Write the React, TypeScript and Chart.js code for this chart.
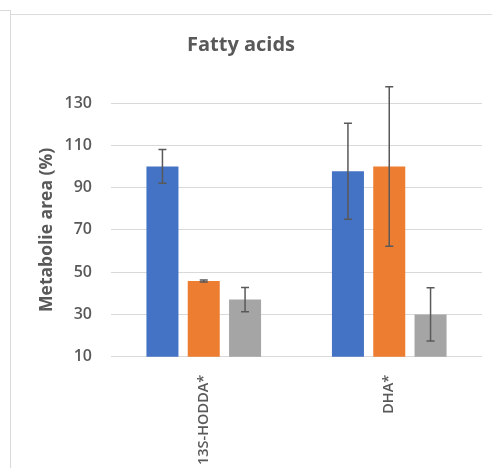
import React, { useEffect, useRef } from "react";
import { Chart, registerables } from "chart.js";

Chart.register(...registerables);

const categories = ["13S-HODDA*", "DHA*"];
const seriesNames = ["Series 1", "Series 2", "Series 3"];
const series1 = [100, 97.7];
const series2 = [45.8, 100];
const series3 = [37, 30];
const error1 = [8, 22.7];
const error2 = [0.5, 37.7];
const error3 = [5.7, 12.6];
const colors = ["#4472C4", "#ED7D31", "#A5A5A5"];
const yTicks = [10, 30, 50, 70, 90, 110, 130];

const textColor = "#595959";
const FONT = "'Open Sans', 'Noto Sans', sans-serif";

const errorBarPlugin = {
  id: "errorBars",
  afterDatasetsDraw(chart: any) {
    const ctx = chart.ctx;
    const yScale = chart.scales.y;
    chart.data.datasets.forEach((ds: any, di: number) => {
      const meta = chart.getDatasetMeta(di);
      const errs: number[] = ds.errors || [];
      meta.data.forEach((bar: any, i: number) => {
        const v = ds.data[i];
        const e = errs[i];
        if (e == null) return;
        const x = bar.x;
        const yTop = yScale.getPixelForValue(v + e);
        const yBot = yScale.getPixelForValue(v - e);
        const cap = 4;
        ctx.save();
        ctx.strokeStyle = "#595959";
        ctx.lineWidth = 1.5;
        ctx.beginPath();
        ctx.moveTo(x, yTop);
        ctx.lineTo(x, yBot);
        ctx.moveTo(x - cap, yTop);
        ctx.lineTo(x + cap, yTop);
        ctx.moveTo(x - cap, yBot);
        ctx.lineTo(x + cap, yBot);
        ctx.stroke();
        ctx.restore();
      });
    });
  },
};

export default function App() {
  const ref = useRef<HTMLCanvasElement>(null);
  useEffect(() => {
    if (!ref.current) return;
    const values = [series1, series2, series3];
    const errors = [error1, error2, error3];
    const chart = new Chart(ref.current, {
      type: "bar",
      data: {
        labels: categories,
        datasets: values.map((d, i) => ({
          label: seriesNames[i],
          data: d,
          errors: errors[i],
          backgroundColor: colors[i],
          borderWidth: 0,
          categoryPercentage: 0.668,
          barPercentage: 0.775,
        })) as any,
      },
      options: {
        responsive: false,
        animation: false,
        layout: { padding: { left: 0, right: 10, top: 0, bottom: 0 } },
        plugins: {
          legend: { display: false },
          tooltip: { enabled: false },
          title: {
            display: true,
            text: "Fatty acids",
            color: textColor,
            font: { family: FONT, size: 20, weight: "bold" },
            padding: { top: 33, bottom: 46 },
          },
        },
        scales: {
          x: {
            grid: { display: false, drawTicks: false },
            border: { display: false },
            ticks: {
              color: textColor,
              font: { family: FONT, size: 14.5, weight: "600" },
              minRotation: 90,
              maxRotation: 90,
              padding: 18,
            },
            afterFit: (scale: any) => {
              scale.height = 111.3;
            },
          },
          y: {
            min: 10,
            max: 130,
            afterBuildTicks: (scale: any) => {
              scale.ticks = yTicks.map((v) => ({ value: v }));
            },
            grid: { color: "#d9d9d9", lineWidth: 1, drawTicks: false },
            border: { display: false },
            ticks: {
              color: textColor,
              font: { family: FONT, size: 16, weight: "600" },
              padding: 19,
            },
            title: {
              display: true,
              text: "Metabolie area (%)",
              color: textColor,
              font: { family: FONT, size: 17.5, weight: "bold" },
              padding: { top: 37, bottom: 0 },
            },
            afterFit: (scale: any) => {
              scale.width = 111;
            },
          },
        },
      },
      plugins: [errorBarPlugin],
    });
    return () => chart.destroy();
  }, []);

  return (
    <div style={{ position: "fixed", left: 0, top: 0, width: 492, height: 468, background: "#fff", overflow: "hidden" }}>
      <div style={{ position: "absolute", left: 0, top: 10, width: 10, height: 1, background: "#d9d9d9" }} />
      <div style={{ position: "absolute", left: 10, top: 10, width: 1, height: 458, background: "#d9d9d9" }} />
      <div style={{ position: "absolute", left: 11, top: 14, width: 481, height: 1, background: "#dcdcdc" }} />
      <canvas ref={ref} width={492} height={468} style={{ position: "absolute", left: 0, top: 0, width: 492, height: 468 }} />
    </div>
  );
}
